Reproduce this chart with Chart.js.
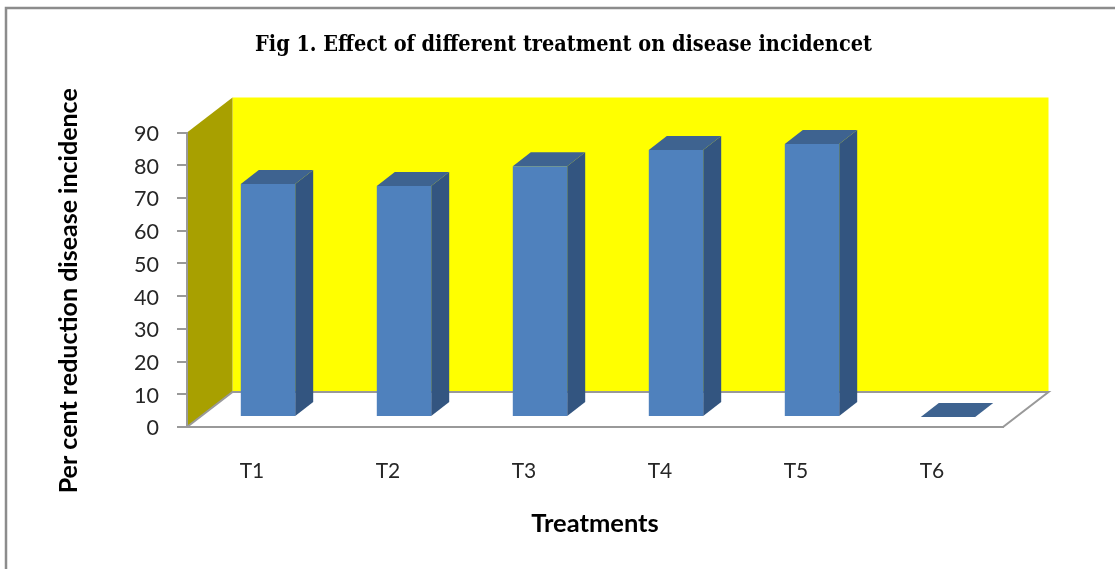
<!DOCTYPE html>
<html>
<head>
<meta charset="utf-8">
<style>
	html, body { margin: 0; padding: 0; background: #fff; }
	canvas { display: block; }
</style>
<script src="https://cdn.jsdelivr.net/npm/chart.js@4"></script>
</head>
<body>
<canvas id="chart" width="1115" height="569"></canvas>
<script>
// chart data
var categories = ['T1', 'T2', 'T3', 'T4', 'T5', 'T6']
var reduction = [71.2, 70.6, 76.6, 81.6, 83.4, 0]
var yTicks = [0, 10, 20, 30, 40, 50, 60, 70, 80, 90]

var chartTitle = 'Fig 1. Effect of different treatment on disease incidencet'
var xTitle = 'Treatments'
var yTitle = 'Per cent reduction disease incidence'

// fake 3d box
var wallDepth = { x: 45.5, y: 35 }
var barShift = { x: 13, y: 10 }
var barDepth = { x: 18, y: 14 }

function poly(ctx, points, fill, stroke) {
	ctx.beginPath()
	points.forEach(function (p, i) {
		if (i === 0) ctx.moveTo(p[0], p[1])
		else ctx.lineTo(p[0], p[1])
	})
	ctx.closePath()
	if (fill) {
		ctx.fillStyle = fill
		ctx.fill()
	}
	if (stroke) {
		ctx.strokeStyle = stroke
		ctx.lineWidth = 2
		ctx.stroke()
	}
}

var box3d = {
	id: 'box3d',
	afterLayout: function (chart) {
		// title sits right of the canvas centre in the picture
		chart.titleBlock.left = 124

		// y title sits below the middle of the axis
		var y = chart.scales.y
		if (!y.titleMoved) {
			var drawTitle = y.drawTitle
			y.drawTitle = function () {
				chart.ctx.save()
				chart.ctx.translate(0, 11)
				drawTitle.call(y)
				chart.ctx.restore()
			}
			y.titleMoved = true
		}
	},
	beforeDraw: function (chart) {
		var ctx = chart.ctx
		var a = chart.chartArea
		var dx = wallDepth.x
		var dy = wallDepth.y

		// outer frame, only left and top show in the picture
		ctx.save()
		ctx.strokeStyle = '#8c8c8c'
		ctx.lineWidth = 2.5
		ctx.beginPath()
		ctx.moveTo(6, 569)
		ctx.lineTo(6, 8)
		ctx.lineTo(1115, 8)
		ctx.stroke()

		// back wall, side wall, floor
		poly(ctx, [[a.left + dx, a.top - dy], [a.right + dx, a.top - dy], [a.right + dx, a.bottom - dy], [a.left + dx, a.bottom - dy]], '#ffff00')
		poly(ctx, [[a.left, a.top], [a.left + dx, a.top - dy], [a.left + dx, a.bottom - dy], [a.left, a.bottom]], '#a8a000')
		poly(ctx, [[a.left, a.bottom], [a.left + dx, a.bottom - dy], [a.right + dx, a.bottom - dy], [a.right, a.bottom]], '#ffffff', '#999999')
		ctx.restore()
	},
	beforeDatasetsDraw: function (chart) {
		var ctx = chart.ctx
		ctx.save()
		ctx.translate(barShift.x, -barShift.y)

		// side and top faces, the front face is the bar itself
		chart.getDatasetMeta(0).data.forEach(function (bar) {
			var l = bar.x - bar.width / 2
			var r = bar.x + bar.width / 2
			var dx = barDepth.x
			var dy = barDepth.y
			poly(ctx, [[r, bar.y], [r + dx, bar.y - dy], [r + dx, bar.base - dy], [r, bar.base]], '#335580')
			poly(ctx, [[l, bar.y], [l + dx, bar.y - dy], [r + dx, bar.y - dy], [r, bar.y]], '#3e6390')
		})
	},
	afterDatasetsDraw: function (chart) {
		chart.ctx.restore()
	}
}

var chart = new Chart(document.getElementById('chart').getContext('2d'), {
	type: 'bar',
	data: {
		labels: categories,
		datasets: [{
			label: 'Per cent reduction',
			data: reduction,
			backgroundColor: '#4f81bd',
			categoryPercentage: 0.4,
			barPercentage: 1
		}]
	},
	options: {
		responsive: false,
		animation: false,
		layout: {
			padding: { top: 0, right: 112, bottom: 0, left: 0 }
		},
		plugins: {
			legend: { display: false },
			tooltip: { enabled: false },
			title: {
				display: true,
				text: chartTitle,
				color: '#000000',
				font: { family: '"DejaVu Serif Condensed", "DejaVu Serif"', size: 21.5, weight: 'bold' },
				padding: { top: 33, bottom: 73.7 }
			}
		},
		scales: {
			x: {
				afterFit: function (scale) { scale.height = 142 },
				grid: { display: false },
				border: { color: '#999999', width: 2 },
				ticks: {
					color: '#262626',
					font: { family: 'Lato', size: 21 },
					padding: 24,
					labelOffset: -3,
					maxRotation: 0
				},
				title: {
					display: true,
					text: xTitle,
					color: '#000000',
					font: { family: 'Lato', size: 25.5, weight: 'bold' },
					padding: { top: 0, bottom: 30 }
				}
			},
			y: {
				min: 0,
				max: 90,
				afterFit: function (scale) { scale.width = 187 },
				afterBuildTicks: function (scale) {
					scale.ticks = yTicks.map(function (v) { return { value: v } })
				},
				grid: {
					drawOnChartArea: false,
					color: '#999999',
					lineWidth: 2,
					tickLength: 10
				},
				border: { color: '#999999', width: 2 },
				ticks: {
					color: '#262626',
					font: { family: 'Lato', size: 21.5 },
					padding: 18,
					labelOffset: 1.5
				},
				title: {
					display: true,
					text: yTitle,
					color: '#000000',
					font: { family: 'Lato', size: 25, weight: 'bold' },
					padding: { top: 54, bottom: 0 }
				}
			}
		}
	},
	plugins: [box3d]
})
</script>
</body>
</html>
